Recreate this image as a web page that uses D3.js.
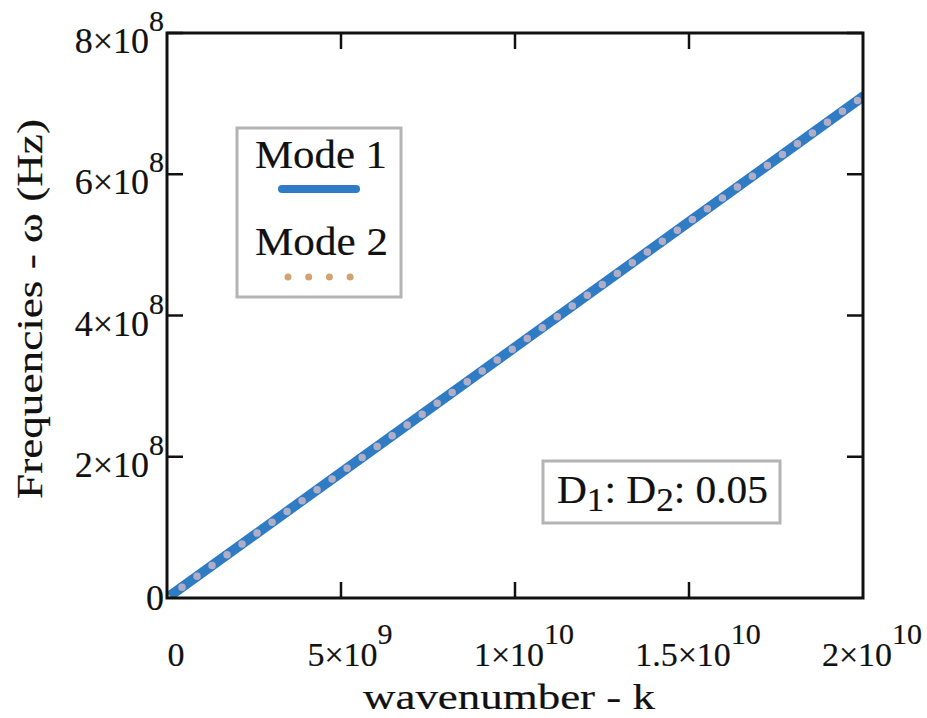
<!DOCTYPE html>
<html>
<head>
<meta charset="utf-8">
<script src="https://cdn.jsdelivr.net/npm/d3@7"></script>
<style>
  body { margin: 0; background: #fff; }
  text { font-family: "Liberation Serif", "DejaVu Serif", serif; fill: #111; stroke: #111; stroke-width: 0.2px; }
</style>
</head>
<body>
<svg id="chart" width="927" height="718"></svg>
<script>
// wavenumber k and the two dispersion branches
const wavenumbers = [0, 5e9, 1e10, 1.5e10, 2e10];
const mode1 = [0, 1.775e8, 3.55e8, 5.325e8, 7.1e8];
const mode2 = [0, 1.775e8, 3.55e8, 5.325e8, 7.1e8];
const xTicks = [0, 5e9, 1e10, 1.5e10, 2e10];
const xTickLabels = [["0", ""], ["5×10", "9"], ["1×10", "10"], ["1.5×10", "10"], ["2×10", "10"]];
const yTicks = [0, 2e8, 4e8, 6e8, 8e8];
const yTickLabels = [["0", ""], ["2×10", "8"], ["4×10", "8"], ["6×10", "8"], ["8×10", "8"]];
const seriesNames = ["Mode 1", "Mode 2"];

const svg = d3.select("#chart");
const plotLeft = 167, plotRight = 863, plotTop = 33, plotBottom = 598;

const x = d3.scaleLinear().domain([0, 2e10]).range([plotLeft, plotRight]);
const y = d3.scaleLinear().domain([0, 8e8]).range([plotBottom, plotTop]);

svg.append("rect").attr("width", 927).attr("height", 718).attr("fill", "#fff");

// clip for the curves
svg.append("clipPath").attr("id", "plotclip")
  .append("rect").attr("x", plotLeft).attr("y", plotTop)
  .attr("width", plotRight - plotLeft).attr("height", plotBottom - plotTop);

const line = d3.line().x(d => x(d[0])).y(d => y(d[1]));
const plot = svg.append("g").attr("clip-path", "url(#plotclip)");

plot.append("path")
  .datum(wavenumbers.map((k, i) => [k, mode1[i]]))
  .attr("d", line)
  .attr("fill", "none")
  .attr("stroke", "#2f7cc4")
  .attr("stroke-width", 10)
  .attr("stroke-linecap", "round");

plot.append("path")
  .datum(wavenumbers.map((k, i) => [k, mode2[i]]))
  .attr("d", line)
  .attr("fill", "none")
  .attr("stroke", "#b0aec6")
  .attr("stroke-width", 7.5)
  .attr("stroke-linecap", "round")
  .attr("stroke-dasharray", "0,18.5");

// ticks on all four sides, pointing inward
const tickLen = 16;
const axes = svg.append("g").attr("stroke", "#111").attr("stroke-width", 2.5);
xTicks.slice(1, -1).forEach(t => {
  axes.append("line").attr("x1", x(t)).attr("x2", x(t)).attr("y1", plotBottom).attr("y2", plotBottom - tickLen);
  axes.append("line").attr("x1", x(t)).attr("x2", x(t)).attr("y1", plotTop).attr("y2", plotTop + tickLen);
});
yTicks.slice(1).forEach(t => {
  axes.append("line").attr("x1", plotLeft).attr("x2", plotLeft + tickLen).attr("y1", y(t)).attr("y2", y(t));
  axes.append("line").attr("x1", plotRight).attr("x2", plotRight - tickLen).attr("y1", y(t)).attr("y2", y(t));
});
svg.append("rect")
  .attr("x", plotLeft).attr("y", plotTop)
  .attr("width", plotRight - plotLeft).attr("height", plotBottom - plotTop)
  .attr("fill", "none").attr("stroke", "#111").attr("stroke-width", 3);

// tick labels with superscript exponents
xTicks.forEach((t, i) => {
  const lab = xTickLabels[i];
  const tx = svg.append("text").attr("x", x(t) + 9).attr("y", 666)
    .attr("text-anchor", "middle").attr("font-size", 34);
  tx.append("tspan").text(lab[0]);
  if (lab[1]) tx.append("tspan").attr("dy", -22).attr("font-size", 30).text(lab[1]);
});
yTicks.forEach((t, i) => {
  const lab = yTickLabels[i];
  const tx = svg.append("text").attr("x", 164).attr("y", y(t) + (lab[1] ? 20 : 12))
    .attr("text-anchor", "end").attr("font-size", 36);
  tx.append("tspan").text(lab[0]);
  if (lab[1]) tx.append("tspan").attr("dy", -22).attr("font-size", 30).text(lab[1]);
});

// axis titles
svg.append("text").attr("x", 509).attr("y", 709).attr("text-anchor", "middle")
  .attr("font-size", 36).attr("textLength", 292).attr("lengthAdjust", "spacingAndGlyphs")
  .text("wavenumber - k");
svg.append("text").attr("transform", "translate(42,309) rotate(-90)").attr("text-anchor", "middle")
  .attr("font-size", 36).attr("textLength", 380).attr("lengthAdjust", "spacingAndGlyphs")
  .text("Frequencies - ω (Hz)");

// legend
const lg = svg.append("g");
lg.append("rect").attr("x", 237).attr("y", 128).attr("width", 164).attr("height", 169)
  .attr("fill", "#fff").attr("stroke", "#b4b4b4").attr("stroke-width", 3);
lg.append("text").attr("x", 255).attr("y", 168).attr("font-size", 40)
  .attr("textLength", 132).attr("lengthAdjust", "spacingAndGlyphs").text(seriesNames[0]);
lg.append("line").attr("x1", 282).attr("x2", 356).attr("y1", 189).attr("y2", 189)
  .attr("stroke", "#2f7cc4").attr("stroke-width", 8).attr("stroke-linecap", "round");
lg.append("text").attr("x", 255).attr("y", 255).attr("font-size", 40)
  .attr("textLength", 133).attr("lengthAdjust", "spacingAndGlyphs").text(seriesNames[1]);
lg.append("line").attr("x1", 288).attr("x2", 351).attr("y1", 277).attr("y2", 277)
  .attr("stroke", "#d3a273").attr("stroke-width", 7).attr("stroke-linecap", "round")
  .attr("stroke-dasharray", "0,20.7");

// parameter box
const pb = svg.append("g");
pb.append("rect").attr("x", 543).attr("y", 461).attr("width", 237).attr("height", 62)
  .attr("fill", "#fff").attr("stroke", "#b4b4b4").attr("stroke-width", 3);
const pt = pb.append("text").attr("x", 557).attr("y", 503).attr("font-size", 40)
  .attr("textLength", 211).attr("lengthAdjust", "spacingAndGlyphs");
pt.append("tspan").text("D");
pt.append("tspan").attr("font-size", 34).attr("dy", 8).text("1");
pt.append("tspan").attr("dy", -8).text(": D");
pt.append("tspan").attr("font-size", 34).attr("dy", 8).text("2");
pt.append("tspan").attr("dy", -8).text(": 0.05");
</script>
</body>
</html>
